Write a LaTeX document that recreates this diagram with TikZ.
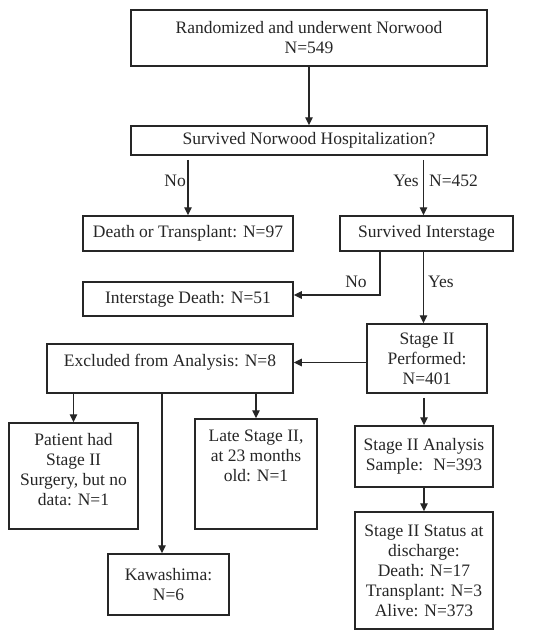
\documentclass[tikz,border=0pt]{standalone}
\usepackage{fontspec}
\setmainfont{Liberation Serif}
\usetikzlibrary{arrows.meta}
% box whose text sits at the top
\newcommand{\topfill}[3]{\parbox[c][#2][t]{#1}{\centering\rule{0pt}{22pt}#3}}
\begin{document}
\begin{tikzpicture}[x=1pt,y=-1pt,
  box/.style={draw=black!85,line width=1.5pt,align=center,inner sep=0pt,
    font=\fontsize{17.5}{20}\selectfont,text=black!85},
  arr/.style={draw=black!85,line width=1.4pt,-{Triangle[length=8pt,width=7.5pt]}},
  lbl/.style={font=\fontsize{17.5}{20}\selectfont,text=black!85,inner sep=0pt}]
\useasboundingbox (0,0) rectangle (545,640);
\node[box,minimum width=356,minimum height=56] (start) at (309,38) {Randomized and underwent Norwood\\N=549};
\node[box,minimum width=356,minimum height=29] (hosp) at (309,140.5) {Survived Norwood Hospitalization?};
\node[box,minimum width=210,minimum height=35] (death) at (188,233.5) {Death or Transplant: N=97};
\node[box,minimum width=173,minimum height=35] (inter) at (426.5,233.5) {Survived Interstage};
\node[box,minimum width=210,minimum height=34] (idead) at (188,299) {Interstage Death: N=51};
\node[box,minimum width=120,minimum height=69] (perf) at (427,358.5) {Stage II\\Performed:\\N=401};
\node[box] (excl) at (170,368.5) {\topfill{246pt}{49pt}{Excluded from Analysis: N=8}};
\node[box] (patient) at (73.5,476) {\topfill{129pt}{106pt}{Patient had\\Stage II\\Surgery, but no\\data: N=1}};
\node[box] (late) at (256,474) {\topfill{122pt}{110pt}{Late Stage II,\\at 23 months\\old: N=1}};
\node[box,minimum width=121,minimum height=61] (kawa) at (168.5,584.5) {Kawashima:\\N=6};
\node[box,minimum width=138,minimum height=61] (ana) at (424,456.5) {Stage II Analysis\\Sample:~ N=393};
\node[box,minimum width=138,minimum height=117] (stat) at (424,570.5) {Stage II Status at\\discharge:\\Death: N=17\\Transplant: N=3\\Alive: N=373};

\node[lbl,anchor=east] (no1) at (186,181) {No};
\node[lbl,anchor=east] (yes1) at (419,181) {Yes};
\node[lbl,anchor=west] (n452) at (429,181) {N=452};
\node[lbl] (no2) at (356,282) {No};
\node[lbl,anchor=west] (yes2) at (428,282) {Yes};

\draw[arr] (start) -- (hosp);
\draw[arr,shorten <=4pt] (hosp.south -| death.north) -- (death.north);
\draw[arr,shorten <=4pt] ([xshift=-3pt]hosp.south -| inter.north) -- ([xshift=-3pt]inter.north);
\draw[arr] ([xshift=-46.5pt]inter.south) |- ([yshift=4pt]idead.east);
\draw[arr] ([xshift=-3pt]inter.south) -- ([xshift=-3pt]inter.south |- perf.north);
\draw[arr] ([yshift=-4pt]perf.west) -- ([yshift=-4pt]perf.west -| excl.east);
\draw[arr] (excl.south -| patient.north) -- (patient.north);
\draw[arr] ([xshift=-6.5pt]excl.south -| kawa.north) -- ([xshift=-6.5pt]kawa.north);
\draw[arr] (excl.south -| late.north) -- (late.north);
\draw[arr,shorten <=4pt] (perf.south -| ana.north) -- (ana.north);
\draw[arr] (ana) -- (stat);
\end{tikzpicture}
\end{document}
